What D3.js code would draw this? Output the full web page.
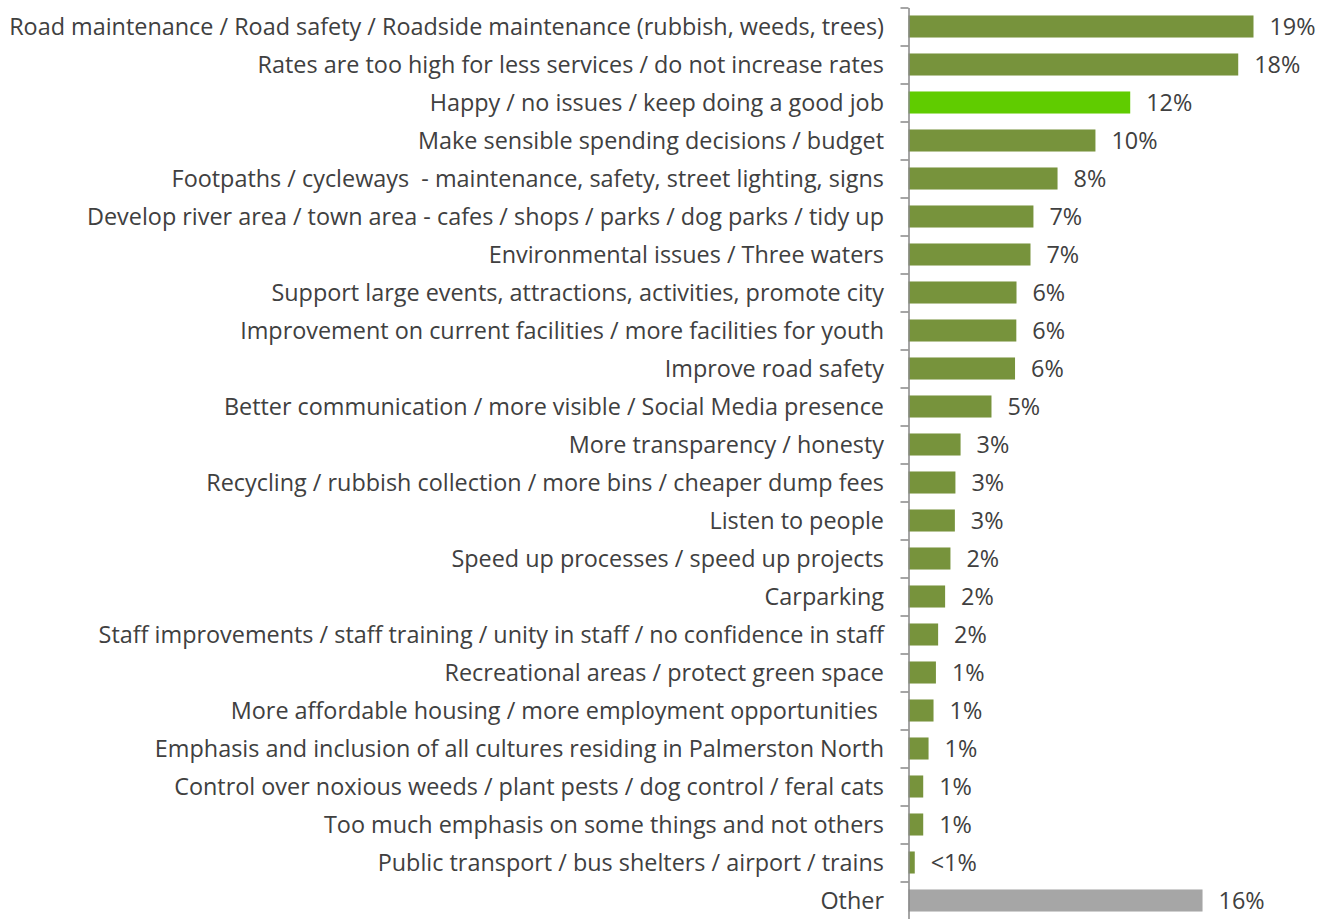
<!DOCTYPE html>
<html>
<head>
<meta charset="utf-8">
<script src="https://cdn.jsdelivr.net/npm/d3@7"></script>
<style>
  html, body { margin: 0; padding: 0; background: #fff; }
  svg text { font-family: "Open Sans", "Noto Sans", sans-serif; fill: #404040; white-space: pre; }
</style>
</head>
<body>
<svg id="chart" width="1329" height="919"></svg>
<script>
// Response categories, top to bottom
const categories = [
  "Road maintenance / Road safety / Roadside maintenance (rubbish, weeds, trees)",
  "Rates are too high for less services / do not increase rates",
  "Happy / no issues / keep doing a good job",
  "Make sensible spending decisions / budget",
  "Footpaths / cycleways  - maintenance, safety, street lighting, signs",
  "Develop river area / town area - cafes / shops / parks / dog parks / tidy up",
  "Environmental issues / Three waters",
  "Support large events, attractions, activities, promote city",
  "Improvement on current facilities / more facilities for youth",
  "Improve road safety",
  "Better communication / more visible / Social Media presence",
  "More transparency / honesty",
  "Recycling / rubbish collection / more bins / cheaper dump fees",
  "Listen to people",
  "Speed up processes / speed up projects",
  "Carparking",
  "Staff improvements / staff training / unity in staff / no confidence in staff",
  "Recreational areas / protect green space",
  "More affordable housing / more employment opportunities\u00a0",
  "Emphasis and inclusion of all cultures residing in Palmerston North",
  "Control over noxious weeds / plant pests / dog control / feral cats",
  "Too much emphasis on some things and not others",
  "Public transport / bus shelters / airport / trains",
  "Other"
];

// Share of respondents (%)
const values = [
  18.75, 17.92, 12.05, 10.16, 8.10, 6.79, 6.63, 5.87, 5.86, 5.79, 4.51, 2.83,
  2.55, 2.52, 2.28, 1.99, 1.61, 1.49, 1.36, 1.09, 0.80, 0.80, 0.34, 15.98
];

// Bar group: regular, highlighted, other
const groups = [
  "main", "main", "highlight", "main", "main", "main", "main", "main", "main",
  "main", "main", "main", "main", "main", "main", "main", "main", "main", "main",
  "main", "main", "main", "main", "other"
];

const colors = { main: "#77933C", highlight: "#60CC00", other: "#A6A6A6" };

const data = categories.map((c, i) => ({ cat: c, value: values[i], group: groups[i] }));

const svg = d3.select("#chart");
const axisX = 908.5;
const plotTop = 7.5, plotBottom = 919.5;
const fontSize = 23.4;

const x = d3.scaleLinear().domain([0, 20]).range([axisX, axisX + 368]);

const y = d3.scaleBand()
  .domain(categories)
  .range([plotTop, plotBottom])
  .paddingInner(0.42)
  .paddingOuter(0.21);

// Bars
svg.append("g").selectAll("rect")
  .data(data)
  .join("rect")
  .attr("x", x(0))
  .attr("y", d => y(d.cat))
  .attr("width", d => x(d.value) - x(0))
  .attr("height", y.bandwidth())
  .attr("fill", d => colors[d.group]);

// Category axis with tick marks between categories
const boundary = d3.scaleLinear().domain([0, categories.length]).range([plotTop, plotBottom]);
const axisG = svg.append("g")
  .attr("transform", `translate(${axisX},0)`)
  .call(d3.axisLeft(boundary).ticks(categories.length).tickFormat("").tickSize(8).tickSizeOuter(0));
axisG.selectAll("path, line").attr("stroke", "#878787").attr("stroke-width", 1.5);

// Category labels
svg.append("g").selectAll("text")
  .data(data)
  .join("text")
  .attr("x", 884)
  .attr("y", d => y(d.cat) + y.bandwidth() / 2)
  .attr("dy", "0.36em")
  .attr("text-anchor", "end")
  .attr("font-size", fontSize)
  .text(d => d.cat);

// Value labels
const fmt = v => (v < 0.5 ? "<1%" : Math.round(v) + "%");
svg.append("g").selectAll("text")
  .data(data)
  .join("text")
  .attr("x", d => x(d.value) + 16)
  .attr("y", d => y(d.cat) + y.bandwidth() / 2)
  .attr("dy", "0.36em")
  .attr("font-size", fontSize)
  .text(d => fmt(d.value));
</script>
</body>
</html>
